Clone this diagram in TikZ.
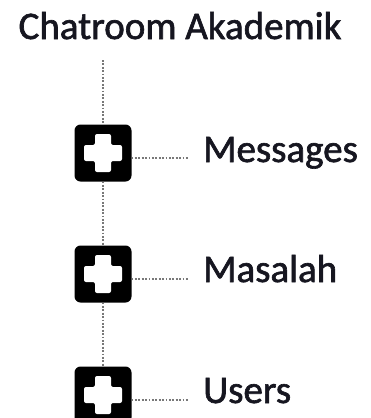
\documentclass[tikz,border=0pt]{standalone}
\usepackage{fontspec}
\setmainfont[FakeBold=1.6]{Carlito}
\definecolor{txt}{RGB}{22,22,32}
\definecolor{dotc}{RGB}{120,120,120}
\begin{document}
\begin{tikzpicture}[x=1pt,y=-1pt,
  plusbox/.style={fill=black, rounded corners=6pt, minimum size=57pt, inner sep=0pt, outer sep=0pt},
  dotline/.style={draw=dotc, line width=1.8pt, dash pattern=on 1.8pt off 1.6pt},
  label/.style={font=\fontsize{39}{44}\selectfont, text=txt, inner sep=0pt, anchor=base west}]
\useasboundingbox (0,0) rectangle (370,418);
\clip (0,0) rectangle (370,418);
\node[font=\fontsize{39}{44}\selectfont, text=txt, inner sep=0pt, anchor=base] (title) at (180,39) {Chatroom Akademik};
\coordinate (top) at (103,60);
\node[plusbox] (b1) at (103,153) {};
\node[plusbox] (b2) at (103,274) {};
\node[plusbox] (b3) at (103,395) {};
\foreach \b in {b1,b2,b3}{
  \fill[white, rounded corners=2pt, shift={(\b.center)}]
      (0,-19) -- (8,-19) -- (8,-8) -- (19,-8) -- (19,8) -- (8,8)
      -- (8,19) -- (-8,19) -- (-8,8) -- (-19,8) -- (-19,-8)
      -- (-8,-8) -- (-8,-19) -- cycle;
}
\node[label] (l1) at (203,162) {Messages};
\node[label] (l2) at (203,282) {Masalah};
\node[label] (l3) at (203,403) {Users};
\coordinate (e1) at (188,158);
\coordinate (e2) at (188,279);
\coordinate (e3) at (188,400);
\draw[dotline] (top) -- (b1.north);
\draw[dotline] (b1.south) -- (b2.north);
\draw[dotline] (b2.south) -- (b3.north);
\draw[dotline] (b1.east |- e1) -- (e1);
\draw[dotline] (b2.east |- e2) -- (e2);
\draw[dotline] (b3.east |- e3) -- (e3);
\end{tikzpicture}
\end{document}
